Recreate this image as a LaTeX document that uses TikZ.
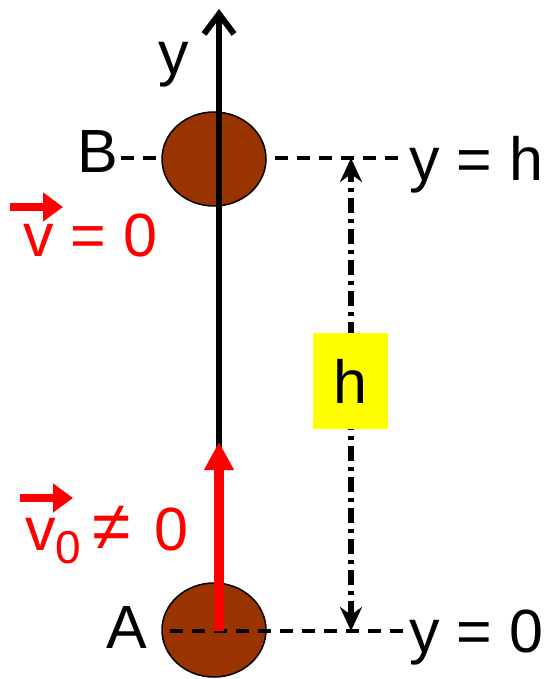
\documentclass[tikz,border=0pt]{standalone}
\usepackage{fontspec}
\setmainfont{Liberation Sans}
\usetikzlibrary{arrows.meta,shapes.geometric}
\definecolor{ballbrown}{HTML}{993300}
\definecolor{hyellow}{HTML}{FFFF00}
\tikzset{
  lbl/.style={font=\fontsize{61}{70}\selectfont, inner sep=0pt, anchor=base},
  redlbl/.style={lbl, text=red},
  ball/.style={draw=black, line width=1.5pt, fill=ballbrown, ellipse, minimum width=104pt, minimum height=94pt, inner sep=0pt},
  level/.style={line width=3.5pt, dash pattern=on 13pt off 9pt},
  vecarrow/.style={red, line width=8pt, -{Triangle[length=20pt,width=28pt]}},
}
\begin{document}
\begin{tikzpicture}[x=1pt,y=-1pt]
\useasboundingbox (0,0) rectangle (545,679);
% coordinates
\coordinate (Bc) at (214,159);
\coordinate (Ac) at (214,630);
\coordinate (axtop) at (219,9);
\coordinate (axbot) at (219,630);
% dashed level B
\coordinate (Bl) at (121,158);
\coordinate (Br) at (405,158);
\draw[level] (Bl) -- (Br);
% ball B
\node[ball] (ballB) at (Bc) {};
% axis
\draw[line width=6pt, -{Straight Barb[length=20pt,width=30pt,line width=6pt]}] (axbot) -- (axtop);
% ball A
\node[ball] (ballA) at (Ac) {};
% dashed level A
\coordinate (Al) at (170,631);
\coordinate (Ar) at (410,631);
\draw[level] (Al) -- (Ar);
% red velocity arrow
\coordinate (vtip) at (219,442);
\coordinate (vbase) at (219,631);
\draw[red, line width=10pt, -{Triangle[length=28pt,width=28pt]}] (vbase) -- (vtip);
% height marker
\coordinate (hT) at (351,158);
\coordinate (hB) at (351,631);
\draw[line width=6pt, dash pattern=on 15pt off 6pt on 4pt off 6pt, {Stealth[length=24pt,width=22pt,inset=8pt]}-{Stealth[length=24pt,width=22pt,inset=8pt]}] (hB) -- (hT);
\node[fill=hyellow, minimum width=75pt, minimum height=96pt, inner sep=0pt] (hbox) at (350.5,381) {};
\node[lbl] (hlbl) at (350,403) {h};
% labels
\node[lbl] (ylbl) at (174,75) {y};
\node[lbl] (Blbl) at (98,172) {B};
\node[lbl] (Albl) at (127,648) {A};
\node[lbl] (yh) at (476,180) {y = h};
\node[lbl] (y0) at (476,652) {y = 0};
% v = 0
\node[redlbl, anchor=base west] (v1) at (23,256) {v = 0};
\coordinate (a1s) at (10,207);
\coordinate (a1e) at (63,207);
\draw[vecarrow] (a1s) -- (a1e);
% v0 != 0
\node[redlbl, anchor=base west] (v2) at (25,550) {v\raisebox{-0.22em}{\fontsize{46}{52}\selectfont 0}\hspace{0.18em}{\fontsize{70}{70}\selectfont ≠}\hspace{0.12em} 0};
\coordinate (a2s) at (20,498);
\coordinate (a2e) at (73,498);
\draw[vecarrow] (a2s) -- (a2e);
\end{tikzpicture}
\end{document}
